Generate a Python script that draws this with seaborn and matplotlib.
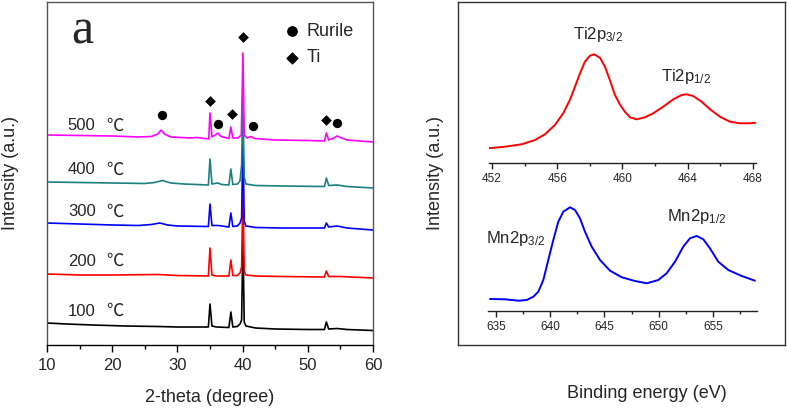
import matplotlib
matplotlib.use("Agg")
import matplotlib.pyplot as plt
import seaborn as sns
import pandas as pd

sns.set_theme(style="white")
plt.rcParams['font.family'] = ['Liberation Sans', 'DejaVu Sans']
plt.rcParams['mathtext.fontset'] = 'custom'
plt.rcParams['mathtext.rm'] = 'Liberation Sans'

# ---------------- Panel a: XRD data (2-theta in degree, intensity a.u.) ----------------
theta_100 = [10, 13, 17, 22, 27, 30, 34.75, 35.0, 35.3, 36, 37.9, 38.2, 38.5, 39.2, 39.6, 39.85, 40.05, 40.25, 40.5, 42, 45, 50, 52.55, 52.85, 53.2, 54.5, 56, 60]
int_100 = [22, 21, 20, 19, 18.5, 18, 18, 41, 19, 18, 17.5, 33, 18, 18.5, 21, 25, 107, 23, 19, 17, 16, 15.5, 15.5, 23, 16, 16.5, 15.5, 14.5]

theta_200 = [10, 15, 20, 27, 30, 34.75, 35.0, 35.3, 36, 37.9, 38.2, 38.5, 39.2, 39.6, 39.85, 40.05, 40.25, 40.5, 42, 46, 52.55, 52.85, 53.2, 55, 60]
int_200 = [71, 70, 70, 70.5, 69.5, 69, 97, 70, 69, 69, 85, 69.5, 69.5, 72, 78, 160, 74, 70, 69, 68.5, 68, 74, 68.5, 68.5, 67]

theta_300 = [10, 15, 20, 24, 26, 27.3, 28.5, 30, 34.75, 35.0, 35.3, 36.3, 37.9, 38.2, 38.5, 39.2, 39.6, 39.85, 40.05, 40.25, 40.5, 42, 46, 52.55, 52.85, 53.2, 54.5, 56, 60]
int_300 = [122, 121, 120, 119.5, 120.5, 122, 120, 119, 118.5, 141, 119.5, 119.5, 118, 132, 118.5, 119, 122, 127, 205, 124, 119, 117.5, 117, 117, 122, 118, 119, 117, 115]

theta_400 = [10, 15, 20, 25, 26.5, 27.7, 29, 31, 34.75, 35.0, 35.3, 36.2, 36.8, 37.9, 38.2, 38.5, 39.2, 39.6, 39.85, 40.05, 40.25, 40.5, 42, 46, 52.55, 52.85, 53.2, 54.5, 56, 60]
int_400 = [163, 162.5, 162, 161.5, 162.5, 164.5, 162, 161, 160, 186, 161, 162, 160.5, 160, 176, 160.5, 161, 164, 180, 250, 168, 161, 159.5, 159, 158.5, 167, 159.5, 160, 158.5, 157]

theta_500 = [10, 15, 20, 24, 26, 27.0, 27.5, 28.0, 29, 32, 33, 34.8, 35.0, 35.3, 35.8, 36.2, 36.7, 37.9, 38.2, 38.5, 39.3, 39.8, 40.05, 40.25, 40.7, 41.3, 41.8, 45, 50, 52.55, 52.85, 53.2, 54.0, 54.5, 55.2, 56, 60]
int_500 = [210, 209.5, 209, 208, 208.5, 211, 215, 211, 208, 207, 207.5, 206, 232, 208, 210, 212, 208.5, 206.5, 218, 207, 207, 210, 292, 210, 207, 208.5, 206.5, 205, 204.5, 204, 212, 205, 207, 209, 207, 205, 203]

temps = ["100", "200", "300", "400", "500"]
temp_colors = ["#000000", "#ff0000", "#0000ff", "#1a8080", "#ff00ff"]
temp_label_y = [34, 84, 133, 175, 219]

rutile_x = [27.6, 36.3, 41.65, 54.5]
rutile_y = [230, 221, 219, 222]
ti_x = [35.07, 38.3, 40.1, 52.8]
ti_y = [244, 231, 308, 225]

# ---------------- Panel b: XPS data ----------------
ti_E = [451.77, 452.80, 453.82, 454.64, 455.25, 455.86, 456.37, 456.78, 457.09, 457.40, 457.70, 458.01, 458.27, 458.62, 458.93, 459.23, 459.54, 459.85, 460.15, 460.46, 460.87, 461.38, 461.89, 462.50, 463.12, 463.63, 463.94, 464.34, 464.86, 465.37, 465.98, 466.59, 467.21, 467.82, 468.2]
ti_I = [14.7, 16.3, 18.7, 23.0, 28.7, 38.0, 49.7, 63.0, 76.3, 89.7, 101.3, 107.3, 108.7, 105.3, 96.3, 83.0, 68.0, 58.5, 51.3, 45.7, 43.7, 45.7, 49.7, 56.3, 63.7, 68.0, 68.7, 67.0, 61.3, 53.7, 46.3, 41.3, 39.7, 39.7, 40.3]

mn_E = [634.45, 635.83, 637.06, 637.83, 638.44, 638.90, 639.36, 639.82, 640.28, 640.74, 641.20, 641.82, 642.28, 642.74, 643.20, 643.82, 644.59, 645.51, 646.59, 647.81, 648.89, 649.96, 650.73, 651.50, 652.26, 652.88, 653.50, 654.11, 654.72, 655.49, 656.41, 657.65, 658.87]
mn_I = [12, 11.7, 10.3, 11, 14.3, 19.3, 31, 51, 71, 89.3, 99.3, 103.7, 101, 92.7, 79.3, 64.3, 51, 40.3, 33.7, 30, 27.7, 31, 37.7, 49.3, 64.3, 72.7, 75, 71.7, 62.7, 49.3, 41, 35, 30.3]

W, H = 787, 412
fig = plt.figure(figsize=(W / 100, H / 100), dpi=100)
fig.patch.set_facecolor("white")


def fr(x0, y0, x1, y1):
    """pixel box (top-left origin) -> figure rect"""
    return [x0 / W, (H - y1) / H, (x1 - x0) / W, (y1 - y0) / H]


# ---------- Panel a ----------
axa = fig.add_axes(fr(47, 2, 373, 345))
curves = [(theta_100, int_100), (theta_200, int_200), (theta_300, int_300),
          (theta_400, int_400), (theta_500, int_500)]
for (tx, ty), c in zip(curves, temp_colors):
    df = pd.DataFrame({"theta": tx, "I": ty})
    sns.lineplot(data=df, x="theta", y="I", ax=axa, color=c, lw=1.2,
                 estimator=None, sort=False)
for lab, yy in zip(temps, temp_label_y):
    axa.text(13.2, yy, lab, fontsize=12, ha="left", va="center")
    axa.text(19.1, yy, "℃", fontsize=12.5, ha="left", va="center",
             family=["Noto Sans CJK SC", "DejaVu Sans"])

sns.scatterplot(x=rutile_x, y=rutile_y, ax=axa, marker="o", s=45, color="black",
                edgecolor="black", linewidth=0, zorder=5)
sns.scatterplot(x=ti_x, y=ti_y, ax=axa, marker="D", s=30, color="black",
                edgecolor="black", linewidth=0, zorder=5)
# legend
axa.scatter([47.6], [314], marker="o", s=45, color="black", zorder=5)
axa.scatter([47.6], [287], marker="D", s=30, color="black", zorder=5)
axa.text(49.8, 314, "Rurile", fontsize=13, va="center", ha="left")
axa.text(49.8, 287, "Ti", fontsize=13, va="center", ha="left")

axa.set_xlim(10, 60)
axa.set_ylim(0, 343)
axa.set_xticks([10, 20, 30, 40, 50, 60])
axa.set_xticks([15, 25, 35, 45, 55], minor=True)
axa.set_yticks([])
axa.tick_params(axis="x", which="major", direction="out", length=5, width=1,
                labelsize=12, bottom=True, color="black", pad=4)
axa.tick_params(axis="x", which="minor", direction="out", length=3, width=1,
                bottom=True, color="black")
for s in ["top", "left", "right"]:
    axa.spines[s].set_color("#555555")
    axa.spines[s].set_linewidth(1.0)
axa.spines["bottom"].set_color("black")
axa.spines["bottom"].set_linewidth(1.0)
axa.set_xlabel("")
axa.set_ylabel("")

fig.text(71 / W, (H - 43) / H, "a", fontsize=36, family="Liberation Serif",
         ha="left", va="baseline")
fig.text(210 / W, (H - 397) / H, "2-theta (degree)", fontsize=13,
         ha="center", va="center")
fig.text(11 / W, (H - 173) / H, "Intensity (a.u.)", fontsize=13,
         ha="center", va="center", rotation=90)

# ---------- Panel b ----------
axbox = fig.add_axes(fr(458, 2, 785, 345))
axbox.set_xticks([])
axbox.set_yticks([])
axbox.set_facecolor("white")
for s in axbox.spines.values():
    s.set_color("#333333")
    s.set_linewidth(1.0)

# top: Ti 2p
axt = fig.add_axes(fr(489, 20, 756, 163))
axt.set_facecolor("none")
sns.lineplot(x=ti_E, y=ti_I, ax=axt, color="#ff0000", lw=1.4, estimator=None, sort=False)
axt.set_xlim(451.82, 468.19)
axt.set_ylim(0, 143)
axt.set_xticks([452, 456, 460, 464, 468])
axt.set_xticks([454, 458, 462, 466], minor=True)
axt.set_yticks([])
for s in ["top", "left", "right"]:
    axt.spines[s].set_visible(False)
axt.spines["bottom"].set_color("#222222")
axt.spines["bottom"].set_linewidth(1.0)
axt.tick_params(axis="x", which="major", direction="out", length=4, width=1,
                labelsize=8.5, bottom=True, color="#222222", pad=3)
axt.tick_params(axis="x", which="minor", direction="out", length=2.5, width=1,
                bottom=True, color="#222222")
axt.text(458.5, 128, r"Ti$\mathregular{2p_{3/2}}$", fontsize=12, ha="center", va="center")
axt.text(463.9, 86, r"Ti$\mathregular{2p_{1/2}}$", fontsize=12, ha="center", va="center")

# bottom: Mn 2p
axm = fig.add_axes(fr(488, 190, 757, 311))
axm.set_facecolor("none")
sns.lineplot(x=mn_E, y=mn_I, ax=axm, color="#0000ff", lw=1.4, estimator=None, sort=False)
axm.set_xlim(634.26, 659.06)
axm.set_ylim(0, 121)
axm.set_xticks([635, 640, 645, 650, 655])
axm.set_xticks([637.5, 642.5, 647.5, 652.5, 657.5], minor=True)
axm.set_yticks([])
for s in ["top", "left", "right"]:
    axm.spines[s].set_visible(False)
axm.spines["bottom"].set_color("#222222")
axm.spines["bottom"].set_linewidth(1.0)
axm.tick_params(axis="x", which="major", direction="out", length=4, width=1,
                labelsize=8.5, bottom=True, color="#222222", pad=3)
axm.tick_params(axis="x", which="minor", direction="out", length=2.5, width=1,
                bottom=True, color="#222222")
axm.text(636.8, 73, r"Mn$\mathregular{2p_{3/2}}$", fontsize=12, ha="center", va="center")
axm.text(653.5, 94, r"Mn$\mathregular{2p_{1/2}}$", fontsize=12, ha="center", va="center")

fig.text(436 / W, (H - 173) / H, "Intensity (a.u.)", fontsize=13,
         ha="center", va="center", rotation=90)
fig.text(647 / W, (H - 393) / H, "Binding energy (eV)", fontsize=13,
         ha="center", va="center")

fig.savefig("out.png", dpi=100, facecolor="white")
